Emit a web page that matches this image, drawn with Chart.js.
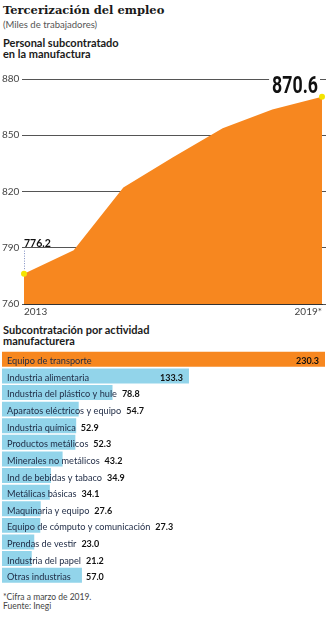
<!DOCTYPE html>
<html>
<head>
<meta charset="utf-8">
<title>Tercerización del empleo</title>
<script src="https://cdn.jsdelivr.net/npm/chart.js@4.4.1/dist/chart.umd.min.js"></script>
<style>
  body { margin: 0; background: #fff; width: 328px; height: 620px; position: relative; overflow: hidden; font-family: Lato, sans-serif; color: #1a1a1a; }
  .txt { position: absolute; left: 3px; white-space: nowrap; }
  #title { top: 3px; font: bold 11.5px/14px "DejaVu Serif", serif; }
  #sub { top: 20px; font-size: 9.5px; line-height: 10px; color: #555; }
  #h1 { top: 37px; font-weight: bold; font-size: 11px; line-height: 11px; }
  #h2 { top: 325px; font-weight: bold; font-size: 11px; line-height: 10.5px; }
  #foot { top: 593px; font-size: 8.5px; line-height: 8.5px; color: #444; }
  .box { position: absolute; left: 0; width: 328px; }
  #areaBox { top: 60px; height: 262px; }
  #barBox { top: 348px; height: 240px; }
</style>
</head>
<body>
<div class="txt" id="title">Tercerización del empleo</div>
<div class="txt" id="sub">(Miles de trabajadores)</div>
<div class="txt" id="h1">Personal subcontratado<br>en la manufactura</div>
<div class="box" id="areaBox"><canvas id="areaChart"></canvas></div>
<div class="txt" id="h2">Subcontratación por actividad<br>manufacturera</div>
<div class="box" id="barBox"><canvas id="barChart"></canvas></div>
<div class="txt" id="foot">*Cifra a marzo de 2019.<br>Fuente: Inegi</div>

<script>
// personal subcontratado en la manufactura, miles
const years = ["2013", "2014", "2015", "2016", "2017", "2018", "2019*"];
const personal = [776.2, 788.7, 822.2, 838.3, 853.8, 863.8, 870.6];
const yTicks = [760, 790, 820, 850, 880];

// subcontratación por actividad manufacturera, miles
const actividades = [
  "Equipo de transporte",
  "Industria alimentaria",
  "Industria del plástico y hule",
  "Aparatos eléctricos y equipo",
  "Industria química",
  "Productos metálicos",
  "Minerales no metálicos",
  "Ind de bebidas y tabaco",
  "Metálicas básicas",
  "Maquinaria y equipo",
  "Equipo de cómputo y comunicación",
  "Prendas de vestir",
  "Industria del papel",
  "Otras industrias",
];
const subcontratados = [230.3, 133.3, 78.8, 54.7, 52.9, 52.3, 43.2, 34.9, 34.1, 27.6, 27.3, 23.0, 21.2, 57.0];

const ORANGE = "#f7871f";
const BLUE = "#92d4ea";
const YELLOW = "#f4e400";

Chart.defaults.font.family = "Lato, sans-serif";
Chart.defaults.animation = false;

// first and last value labels on the area chart
const endLabels = {
  id: "endLabels",
  afterDatasetsDraw(chart) {
    const ctx = chart.ctx;
    const pts = chart.getDatasetMeta(0).data;
    const first = pts[0];
    const last = pts[pts.length - 1];
    ctx.save();

    // 776.2 with dotted leader
    ctx.strokeStyle = "#7d8cc0";
    ctx.lineWidth = 1;
    ctx.setLineDash([1, 1.5]);
    ctx.beginPath();
    ctx.moveTo(first.x + 0.5, first.y - 23);
    ctx.lineTo(first.x + 0.5, first.y - 3);
    ctx.stroke();
    ctx.setLineDash([]);
    ctx.fillStyle = "#111";
    ctx.font = "bold 10.5px Lato";
    ctx.textAlign = "left";
    ctx.textBaseline = "middle";
    ctx.fillText(personal[0].toFixed(1), first.x, first.y - 30);

    // 870.6, big and condensed, over a white patch
    const txt = personal[personal.length - 1].toFixed(1);
    ctx.font = "bold 24px Roboto";
    const w = ctx.measureText(txt).width * 0.74;
    const right = last.x - 4;
    const base = last.y - 3.5;
    ctx.fillStyle = "#fff";
    ctx.fillRect(right - w - 3, base - 20, w + 5, 16);
    ctx.translate(right, base);
    ctx.scale(0.74, 1);
    ctx.fillStyle = "#111";
    ctx.textAlign = "right";
    ctx.textBaseline = "alphabetic";
    ctx.fillText(txt, 0, 0);
    ctx.restore();
  },
};

new Chart(document.getElementById("areaChart"), {
  type: "line",
  data: {
    labels: years,
    datasets: [
      {
        data: personal,
        fill: "start",
        backgroundColor: ORANGE,
        borderColor: ORANGE,
        borderWidth: 0,
        tension: 0,
        pointRadius: personal.map((v, i) => (i === 0 || i === personal.length - 1 ? 3 : 0)),
        pointBackgroundColor: YELLOW,
        pointBorderWidth: 0,
        clip: 5,
      },
    ],
  },
  options: {
    responsive: true,
    maintainAspectRatio: false,
    layout: { padding: { top: 19, right: 2, bottom: 0, left: 2 } },
    plugins: { legend: { display: false }, tooltip: { enabled: false } },
    scales: {
      x: {
        grid: { display: false, drawTicks: false },
        border: { display: true, color: "#333", width: 1, z: 1 },
        afterFit: (axis) => { axis.height = 18; },
        ticks: {
          autoSkip: false,
          maxRotation: 0,
          align: "inner",
          padding: 2,
          color: "#444",
          font: { size: 10 },
          callback: function (value, index) {
            return index === 0 || index === years.length - 1 ? this.getLabelForValue(value) : "";
          },
        },
      },
      y: {
        min: 760,
        max: 880,
        afterBuildTicks: (axis) => { axis.ticks = yTicks.map((v) => ({ value: v })); },
        afterFit: (axis) => { axis.width = 22; },
        grid: { color: "#555", lineWidth: 1, tickLength: 2 },
        border: { display: false },
        ticks: { crossAlign: "far", padding: 0, color: "#444", font: { size: 10 } },
      },
      y2: {
        position: "right",
        min: 760,
        max: 880,
        afterBuildTicks: (axis) => { axis.ticks = yTicks.map((v) => ({ value: v })); },
        afterFit: (axis) => { axis.width = 4; },
        grid: { drawOnChartArea: false, color: "#555", tickLength: 4 },
        border: { display: false },
        ticks: { display: false },
      },
    },
  },
  plugins: [endLabels],
});

// category names inside the bars and values beside them
const barLabels = {
  id: "barLabels",
  afterDatasetsDraw(chart) {
    const ctx = chart.ctx;
    const bars = chart.getDatasetMeta(0).data;
    ctx.save();
    ctx.textBaseline = "alphabetic";
    bars.forEach((bar, i) => {
      const baseline = bar.y + bar.height / 2 - 2.5;
      const textX = bar.base + 5;
      ctx.font = "9.2px Lato";
      ctx.fillStyle = "#1e2a44";
      ctx.textAlign = "left";
      ctx.fillText(actividades[i], textX, baseline);
      const textEnd = textX + ctx.measureText(actividades[i]).width;

      const val = subcontratados[i].toFixed(1);
      ctx.font = "bold 9px Lato";
      ctx.fillStyle = "#111";
      const vw = ctx.measureText(val).width;
      if (textEnd + 10 + vw <= bar.x - 6) {
        ctx.textAlign = "right";
        ctx.fillText(val, bar.x - 6, baseline);
      } else {
        ctx.textAlign = "left";
        ctx.fillText(val, Math.max(bar.x + 4, textEnd + 5), baseline);
      }
    });
    ctx.restore();
  },
};

new Chart(document.getElementById("barChart"), {
  type: "bar",
  data: {
    labels: actividades,
    datasets: [
      {
        data: subcontratados,
        backgroundColor: subcontratados.map((v, i) => (i === 0 ? ORANGE : BLUE)),
        borderWidth: 0,
        barPercentage: 0.9,
        categoryPercentage: 1,
      },
    ],
  },
  options: {
    indexAxis: "y",
    responsive: true,
    maintainAspectRatio: false,
    layout: { padding: { top: 3, right: 3, bottom: 4.5, left: 2 } },
    plugins: { legend: { display: false }, tooltip: { enabled: false } },
    scales: {
      x: { display: false, min: 0, max: Math.max(...subcontratados) },
      y: { display: false },
    },
  },
  plugins: [barLabels],
});
</script>
</body>
</html>
